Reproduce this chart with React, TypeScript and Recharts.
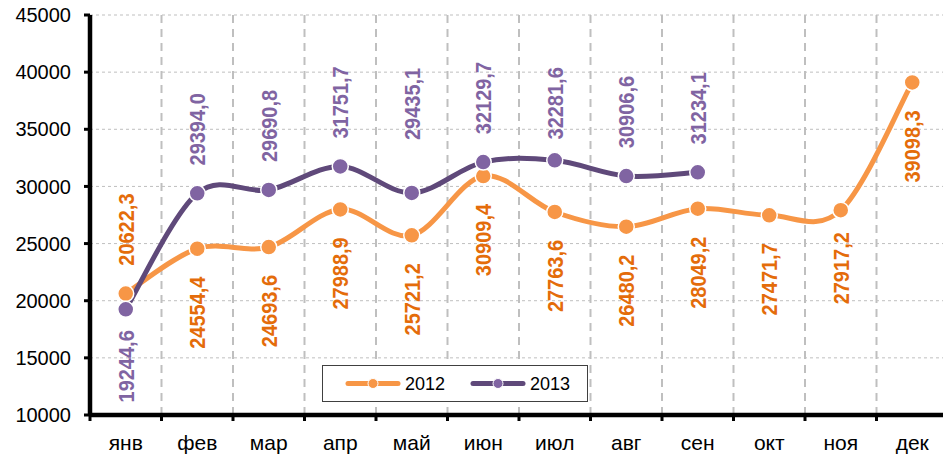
import React from 'react';
import { LineChart, Line, XAxis, YAxis, CartesianGrid, LabelList } from 'recharts';

const months = ['янв', 'фев', 'мар', 'апр', 'май', 'июн', 'июл', 'авг', 'сен', 'окт', 'ноя', 'дек'];
const values2012 = [20622.3, 24554.4, 24693.6, 27988.9, 25721.2, 30909.4, 27763.6, 26480.2, 28049.2, 27471.7, 27917.2, 39098.3];
const values2013: (number | null)[] = [19244.6, 29394.0, 29690.8, 31751.7, 29435.1, 32129.7, 32281.6, 30906.6, 31234.1, null, null, null];
const yTicks = [10000, 15000, 20000, 25000, 30000, 35000, 40000, 45000];
const boundaryTicks = [0, 1, 2, 3, 4, 5, 6, 7, 8, 9, 10, 11, 12];
const seriesNames = ['2012', '2013'];

const data = months.map((m, i) => ({ month: m, slot: i + 0.5, y2012: values2012[i], y2013: values2013[i] }));

// label placement (pixel offsets from point, layout only)
const labelOffset2012 = (i: number) => (i === 0 ? -64 : i === 10 ? 58 : 64);
const labelOffset2013 = (i: number) => (i === 0 ? 57 : i === 4 ? -89 : i === 6 ? -57 : -64);

const ORANGE = '#F79646';
const ORANGE_TEXT = '#E46C0A';
const PURPLE_LINE = '#5F497A';
const PURPLE = '#8064A2';
const FONT = '"Liberation Sans", Arial, sans-serif';

// Excel-like smoothing (uniform Catmull-Rom as cubic Bezier)
function excelSmooth(context: any) {
  let pts: number[][] = [];
  return {
    areaStart() {},
    areaEnd() {},
    lineStart() {
      pts = [];
    },
    lineEnd() {
      const n = pts.length;
      if (!n) return;
      context.moveTo(pts[0][0], pts[0][1]);
      for (let i = 0; i < n - 1; i++) {
        const p0 = pts[Math.max(i - 1, 0)];
        const p1 = pts[i];
        const p2 = pts[i + 1];
        const p3 = pts[Math.min(i + 2, n - 1)];
        const c1x = p1[0] + (p2[0] - p0[0]) / 6;
        const c1y = p1[1] + (p2[1] - p0[1]) / 6;
        const c2x = p2[0] - (p3[0] - p1[0]) / 6;
        const c2y = p2[1] - (p3[1] - p1[1]) / 6;
        context.bezierCurveTo(c1x, c1y, c2x, c2y, p2[0], p2[1]);
      }
    },
    point(x: number, y: number) {
      pts.push([+x, +y]);
    },
  };
}

const fmt = (v: number) => v.toFixed(1).replace('.', ',');

const makeLabel = (color: string, offsetFn: (i: number) => number) => (props: any) => {
  const { x, y, value, index } = props;
  if (value == null || x == null || y == null) return null;
  const cy = Number(y) + offsetFn(index);
  return (
    <text
      transform={`translate(${x}, ${cy}) scale(1.08, 1) rotate(-90)`}
      textAnchor="middle"
      dominantBaseline="central"
      fill={color}
      fontSize={20}
      fontWeight="bold"
      fontFamily={FONT}
    >
      {fmt(Number(value))}
    </text>
  );
};

const Legendbox = () => (
  <svg
    width={266}
    height={37}
    style={{ position: 'absolute', left: 322, top: 365, overflow: 'visible' }}
  >
    <rect x={0.5} y={0.5} width={265} height={36} fill="#fff" stroke="#404040" strokeWidth={1} />
    <line x1={26} y1={18.5} x2={76} y2={18.5} stroke={ORANGE} strokeWidth={5} strokeLinecap="round" />
    <circle cx={51} cy={18.5} r={5} fill={ORANGE} stroke="#fff" strokeWidth={1} />
    <text x={83} y={24.5} fontSize={18} fontFamily={FONT} fill="#000">
      {seriesNames[0]}
    </text>
    <line x1={151} y1={18.5} x2={201} y2={18.5} stroke={PURPLE_LINE} strokeWidth={5} strokeLinecap="round" />
    <circle cx={176} cy={18.5} r={5} fill={PURPLE} stroke="#fff" strokeWidth={1} />
    <text x={208} y={24.5} fontSize={18} fontFamily={FONT} fill="#000">
      {seriesNames[1]}
    </text>
  </svg>
);

export default function App() {
  return (
    <div
      style={{
        position: 'absolute',
        left: 0,
        top: 0,
        width: 943,
        height: 455,
        overflow: 'hidden',
        background: '#fff',
      }}
    >
      <LineChart
        width={960}
        height={455}
        data={data}
        margin={{ top: 15, right: 12, bottom: 0, left: 0 }}
      >
        <CartesianGrid
          vertical={false}
          stroke="#BFBFBF"
          strokeWidth={1}
          strokeDasharray="3 3"
        />
        <CartesianGrid
          horizontal={false}
          xAxisId="b"
          stroke="#BFBFBF"
          strokeWidth={2}
          strokeDasharray="8 6"
        />
        <XAxis
          xAxisId="b"
          dataKey="slot"
          type="number"
          domain={[0, 12]}
          ticks={boundaryTicks}
          allowDataOverflow
          interval={0}
          height={6}
          tickSize={6}
          tickFormatter={() => ''}
          axisLine={{ stroke: '#000', strokeWidth: 4.5 }}
          tickLine={{ stroke: '#000', strokeWidth: 3 }}
        />
        <XAxis
          xAxisId="m"
          dataKey="month"
          scale="band"
          height={34}
          interval={0}
          axisLine={false}
          tickLine={false}
          tickSize={0}
          tickMargin={14}
          tick={{ fill: '#000', fontSize: 21, fontFamily: FONT }}
        />
        <YAxis
          domain={[10000, 45000]}
          ticks={yTicks}
          interval={0}
          width={90}
          tickSize={6}
          tickMargin={13}
          axisLine={{ stroke: '#000', strokeWidth: 4.5 }}
          tickLine={{ stroke: '#000', strokeWidth: 3 }}
          tick={{ fill: '#000', fontSize: 20, fontFamily: FONT }}
        />
        <Line
          xAxisId="m"
          dataKey="y2012"
          name={seriesNames[0]}
          type={excelSmooth as any}
          stroke={ORANGE}
          strokeWidth={5}
          dot={{ r: 8, fill: ORANGE, stroke: '#fff', strokeWidth: 1.5 }}
          activeDot={false}
          isAnimationActive={false}
        >
          <LabelList dataKey="y2012" content={makeLabel(ORANGE_TEXT, labelOffset2012)} />
        </Line>
        <Line
          xAxisId="m"
          dataKey="y2013"
          name={seriesNames[1]}
          type={excelSmooth as any}
          stroke={PURPLE_LINE}
          strokeWidth={5}
          dot={{ r: 8, fill: PURPLE, stroke: '#fff', strokeWidth: 1.5 }}
          activeDot={false}
          isAnimationActive={false}
        >
          <LabelList dataKey="y2013" content={makeLabel(PURPLE, labelOffset2013)} />
        </Line>
      </LineChart>
      <Legendbox />
    </div>
  );
}
